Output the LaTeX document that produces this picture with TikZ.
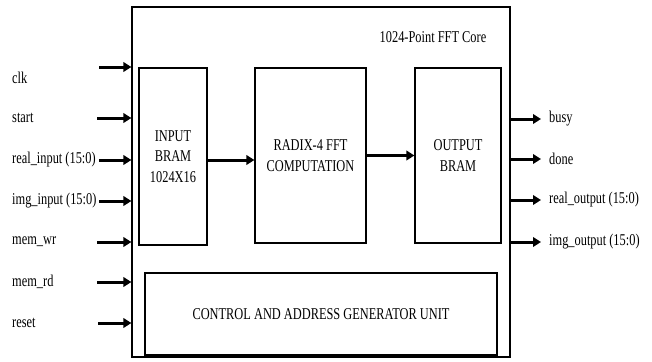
\documentclass[tikz,border=0pt]{standalone}
\usepackage{fontspec}
\setmainfont[FakeStretch=0.75]{Liberation Serif}
\usetikzlibrary{arrows.meta}
\begin{document}
\begin{tikzpicture}[x=1pt,y=-1pt,
  font=\fontsize{16.5}{20.5}\selectfont,
  block/.style={draw, line width=1.2pt, rectangle, inner sep=0pt, align=center},
  sig/.style={line width=3pt, -{Triangle[length=8pt,width=9.5pt]}},
  lbl/.style={anchor=west, inner sep=0pt}]
\useasboundingbox (0,0) rectangle (652,361);
% blocks
\node[block, minimum width=378pt, minimum height=350pt] (outer) at (321,182) {};
\node[block, minimum width=68pt, minimum height=177pt] (inbram) at (173,156.5) {INPUT\\BRAM\\1024X16};
\node[block, minimum width=111pt, minimum height=175pt] (radix) at (310.5,155.5) {RADIX-4 FFT\\COMPUTATION};
\node[block, minimum width=86pt, minimum height=175pt] (outbram) at (458,155.5) {OUTPUT\\BRAM};
\node[block, minimum width=352pt, minimum height=82pt] (ctrl) at (321,314) {CONTROL AND ADDRESS GENERATOR UNIT};
\node[inner sep=0pt] (title) at (433,37) {1024-Point FFT Core};
% input labels
\node[lbl] (lclk) at (12,78) {clk};
\node[lbl] (lstart) at (12,118) {start};
\node[lbl] (lreal) at (12,160) {real\_input (15:0)};
\node[lbl] (limg) at (12,201) {img\_input (15:0)};
\node[lbl] (lwr) at (12,242) {mem\_wr};
\node[lbl] (lrd) at (12,282) {mem\_rd};
\node[lbl] (lrst) at (12,323) {reset};
% input arrow starts
\coordinate (sclk) at (99,67);
\coordinate (sstart) at (97,118);
\coordinate (sreal) at (99,160);
\coordinate (simg) at (99,201);
\coordinate (swr) at (97,242);
\coordinate (srd) at (97,282);
\coordinate (srst) at (98,323);
\foreach \s in {sclk,sstart,sreal,simg,swr,srd,srst}
  \draw[sig] (\s) -- (\s -| outer.west);
% internal arrows
\draw[sig] ([yshift=-3.5pt]inbram.east) -- ([yshift=-3.5pt]inbram.east -| radix.west);
\draw[sig] (radix.east) -- (outbram.west);
% outputs
\coordinate (ebusy) at (541,119);
\coordinate (edone) at (541,159);
\coordinate (ereal) at (541,200);
\coordinate (eimg) at (541,242);
\foreach \e in {ebusy,edone,ereal,eimg}
  \draw[sig] (\e -| outer.east) -- (\e);
\node[lbl] (lbusy) at (549,119) {busy};
\node[lbl] (ldone) at (549,159) {done};
\node[lbl] (lrout) at (549,200) {real\_output (15:0)};
\node[lbl] (liout) at (549,242) {img\_output (15:0)};
\end{tikzpicture}
\end{document}
